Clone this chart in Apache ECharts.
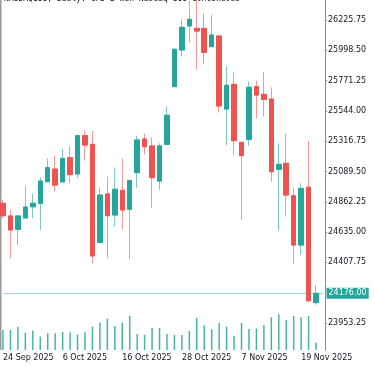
<!DOCTYPE html>
<html><head><meta charset="utf-8">
<script src="https://cdn.jsdelivr.net/npm/echarts@6/dist/echarts.min.js"></script>
<style>html,body{margin:0;padding:0;background:#fff}#c{width:375px;height:366px}</style>
</head><body><div id="c"></div>
<script>
const dates = ['2025-09-24','2025-09-25','2025-09-26','2025-09-29','2025-09-30','2025-10-01','2025-10-02','2025-10-03','2025-10-06','2025-10-07','2025-10-08','2025-10-09','2025-10-10','2025-10-13','2025-10-14','2025-10-15','2025-10-16','2025-10-17','2025-10-20','2025-10-21','2025-10-22','2025-10-23','2025-10-24','2025-10-27','2025-10-28','2025-10-29','2025-10-30','2025-10-31','2025-11-03','2025-11-04','2025-11-05','2025-11-06','2025-11-07','2025-11-10','2025-11-11','2025-11-12','2025-11-13','2025-11-14','2025-11-17','2025-11-18','2025-11-19','2025-11-20','2025-11-21','2025-11-24'];
const opens  = [24851,24756,24656,24741,24825,24851,25013,25108,25011,25193,25071,25358,25293,24558,24921,24763,24948,24806,25081,25333,25281,25018,25293,25726,26001,26181,26163,26163,26026,26106,25558,25743,25308,25331,25726,25668,25633,25106,25151,24908,24538,24971,24106];
const closes = [24758,24651,24756,24823,24851,25018,25118,24988,25188,25066,25358,25288,24456,24913,24758,24956,24801,25021,25326,25276,25043,25281,25511,26006,26171,26231,26143,25983,26113,25581,25736,25321,25208,25721,25663,25631,25088,25143,24913,24538,24963,24120,24176];
const lows   = [24741,24438,24538,24741,24739,24651,25013,24938,25011,25001,25038,25171,24401,24558,24438,24676,24658,24431,24968,25218,24818,24951,25293,25721,25951,26056,25856,25896,26026,25531,25288,25211,24726,25283,25488,25501,25013,24646,24751,24401,24463,24112,24088];
const highs  = [24876,24801,24756,24981,24921,25046,25186,25206,25258,25281,25368,25396,25393,24971,25051,25121,25186,25021,25358,25373,25346,25301,25576,26013,26231,26368,26385,26276,26263,26106,25881,25831,25311,25766,25771,25836,25721,25301,25376,24971,25001,25320,24236];
const volumes = [20000,20000,23300,17300,19300,13300,16700,16700,18000,17700,15700,17700,23300,27300,31300,24000,27300,34000,16000,15000,22000,22000,16000,15000,15000,19000,32000,24700,20700,27000,23300,14000,27000,21000,21300,25000,32700,35700,30000,34000,32700,34000,7300];
const priceTicks = [23953.25,24407.75,24635.00,24862.25,25089.50,25316.75,25544.00,25771.25,25998.50,26225.75];
const labelDates = ['2025-09-24','2025-10-06','2025-10-16','2025-10-28','2025-11-07','2025-11-19'];
const titleText = 'NASDAQ100, Daily: CFD 2 min Nasdaq 100 Continuous';

const MON = ['Jan','Feb','Mar','Apr','May','Jun','Jul','Aug','Sep','Oct','Nov','Dec'];
function fmtDate(s){const p=s.split('-');return (+p[2])+' '+MON[+p[1]-1]+' '+p[0];}

const UP='#26a69a', DN='#ef5350', UPW='rgba(38,166,154,0.6)', DNW='rgba(239,83,80,0.6)';
const full = opens.map((o,i)=>[o,closes[i],lows[i],highs[i]]);
const bodies = opens.map((o,i)=>[o,closes[i],Math.min(o,closes[i]),Math.max(o,closes[i])]);
const lastClose = closes[closes.length-1];
const FONT = 'DejaVu Sans';

const chart = echarts.init(document.getElementById('c'), null, {renderer:'canvas'});
chart.setOption({
  animation:false,
  backgroundColor:'#ffffff',
  grid:{left:1, top:0, right:51.5, height:350, containLabel:false},
  xAxis:{type:'category', data:dates, boundaryGap:false,
    axisLine:{show:false}, axisTick:{show:false}, splitLine:{show:false},
    axisLabel:{show:true, interval:(i,v)=>labelDates.indexOf(v)>=0, formatter:fmtDate,
      align:'left', margin:4, fontSize:8, fontFamily:FONT, color:'#131722', hideOverlap:false}},
  yAxis:[{type:'value', position:'right', offset:1.5, min:23750.75, max:26375.75, scale:true,
      axisLine:{show:true, lineStyle:{color:'#8a8a8a', width:1}},
      axisTick:{show:true, length:2, customValues:priceTicks, lineStyle:{color:'#8a8a8a'}},
      splitLine:{show:false},
      axisLabel:{show:true, customValues:priceTicks, margin:3, fontSize:8, fontFamily:FONT, color:'#131722',
        formatter:v=>v.toFixed(2)}},
    {type:'value', show:false, min:0, max:350000}],
  series:[
    {type:'bar', yAxisIndex:1, data:volumes, barWidth:1.5, itemStyle:{color:'rgba(38,166,154,0.85)'}, silent:true},
    {type:'candlestick', data:full, barWidth:5, silent:true,
      itemStyle:{color:'transparent', color0:'transparent', borderColor:UPW, borderColor0:DNW, borderWidth:1}},
    {type:'candlestick', data:bodies, barWidth:5, silent:true,
      itemStyle:{color:UP, color0:DN, borderColor:UP, borderColor0:DN, borderWidth:1},
      markLine:{silent:true, symbol:['none','none'], precision:2,
        lineStyle:{color:'rgba(38,166,154,0.45)', type:'solid', width:1},
        label:{show:true, position:'end', distance:3, formatter:()=>lastClose.toFixed(2),
          backgroundColor:UP, color:'#fff', fontSize:8, fontFamily:FONT, padding:[2,2,1,2]},
        data:[{yAxis:lastClose}]}}
  ],
  graphic:[
    {type:'rect', left:0, top:0, shape:{x:0,y:0,width:1.5,height:350}, style:{fill:'#9a9a9a'}, silent:true},
    {type:'text', x:4, y:3, style:{text:titleText, fontSize:8, fontFamily:'DejaVu Sans Mono', fill:'#131722', textVerticalAlign:'bottom'}, silent:true}
  ]
});
</script></body></html>
